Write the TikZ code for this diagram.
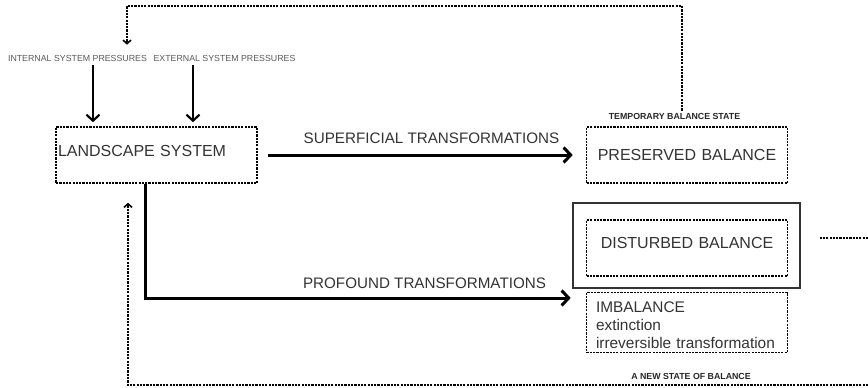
\documentclass[tikz,border=0pt]{standalone}
\usepackage{fontspec}
\setmainfont{Liberation Sans}
\usetikzlibrary{arrows.meta,positioning}

\tikzset{
  dotbox/.style={draw=black, line width=1.6pt, dash pattern=on 2.2pt off 1.1pt,
    minimum width=201pt, minimum height=56pt, text=black!80,
    font=\fontsize{16}{18}\selectfont},
  framebox/.style={draw=black!80, line width=1.3pt, minimum width=227pt, minimum height=85pt},
  smalltxt/.style={text=black!65, inner sep=2pt, font=\fontsize{8.8}{10}\selectfont},
  smallbold/.style={text=black!85, inner sep=2pt, font=\bfseries\fontsize{8.8}{10}\selectfont},
  arrowlbl/.style={text=black!80, font=\fontsize{15.2}{18}\selectfont},
  bigarrow/.style={line width=3pt, -{Straight Barb[length=7pt,width=15pt]}},
  pressarrow/.style={line width=2.2pt, -{Straight Barb[length=6pt,width=13pt]}},
  fb/.style={line width=1.6pt, dash pattern=on 2.2pt off 1.1pt}
}

\begin{document}
\begin{tikzpicture}[x=1pt,y=-1pt]
\useasboundingbox (0,0) rectangle (868,388);

% boxes
\node[dotbox, text width=197pt, inner xsep=2pt, align=left, text depth=8pt] (land) at (156.5,155) {LANDSCAPE SYSTEM};
\node[dotbox, text width=193pt, align=center] (pres) at (687,155) {PRESERVED BALANCE};
\node[dotbox, text width=193pt, align=center, text depth=10pt] (dist) at (687,248) {DISTURBED BALANCE};
\node[framebox] (distframe) at (686.5,245.5) {};
\node[dotbox, minimum height=55pt, inner xsep=9pt, text width=182pt, align=left, text height=17pt,
  font=\fontsize{15.4}{18}\selectfont] (imb) at (687,322.5) {IMBALANCE\\extinction\\irreversible transformation};

% small labels
\node[smalltxt] (intp) at (77.5,58) {INTERNAL SYSTEM PRESSURES};
\node[smalltxt] (extp) at (224.5,58) {EXTERNAL SYSTEM PRESSURES};
\node[smallbold] (temp) at (674.5,116) {TEMPORARY BALANCE STATE};
\node[smallbold] (newst) at (691,376) {A NEW STATE OF BALANCE};

% arrow labels
\node[arrowlbl] (sup) at (431.5,138) {SUPERFICIAL TRANSFORMATIONS};
\node[arrowlbl] (prof) at (424.5,283) {PROFOUND TRANSFORMATIONS};

% pressures
\draw[pressarrow, shorten <=2pt, shorten >=4pt] ([xshift=15.5pt]intp.south) -- ([xshift=15.5pt]intp.south |- land.north);
\draw[pressarrow, shorten <=2pt, shorten >=4pt] ([xshift=-31.5pt]extp.south) -- ([xshift=-31.5pt]extp.south |- land.north);

% transformations
\draw[bigarrow, shorten <=10pt, shorten >=13pt] (land.east) -- (pres.west);
\draw[bigarrow, shorten >=15pt] ([xshift=-11.5pt]land.south) |- ([yshift=24.5pt]imb.west);

% feedback loops
\coordinate (fbtop) at (0,6);
\coordinate (newin) at (868,385);
\coordinate (distout) at (868,238);
\draw[fb, -{Straight Barb[length=3.5pt,width=8pt]}, shorten >=8pt]
  ([xshift=7.5pt]temp.north) -- ([xshift=7.5pt]temp.north |- fbtop) -| ([xshift=49.5pt]intp.north);
\draw[fb, -{Straight Barb[length=3.5pt,width=8pt]}, shorten >=19pt]
  (newin) -| ([xshift=-28.5pt]land.south);
\draw[fb, shorten <=19pt] ([yshift=7.5pt]distframe.east) -- (distout);
\end{tikzpicture}
\end{document}
